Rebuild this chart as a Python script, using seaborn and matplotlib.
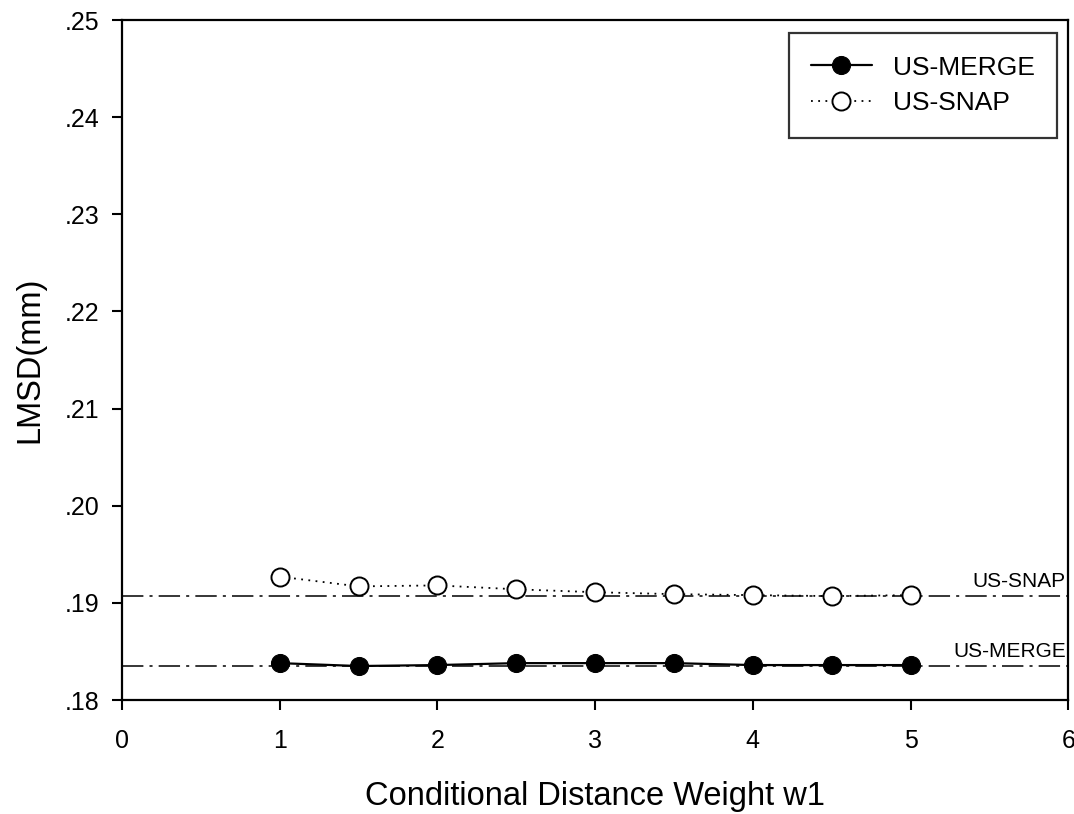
import matplotlib
matplotlib.use("Agg")
import matplotlib.pyplot as plt
import seaborn as sns
import numpy as np
import pandas as pd

weights = [1, 1.5, 2, 2.5, 3, 3.5, 4, 4.5, 5]
us_merge = [0.1838, 0.1835, 0.1836, 0.1838, 0.1838, 0.1838, 0.1836, 0.1836, 0.1836]
us_snap = [0.1927, 0.1917, 0.1918, 0.1914, 0.1911, 0.1909, 0.1908, 0.1907, 0.1908]
baseline_merge = 0.18355
baseline_snap = 0.19075
x_ticks = [0, 1, 2, 3, 4, 5, 6]
y_ticks = [0.18, 0.19, 0.20, 0.21, 0.22, 0.23, 0.24, 0.25]
y_tick_labels = [".18", ".19", ".20", ".21", ".22", ".23", ".24", ".25"]

sns.set_style("ticks")
plt.rcParams['font.family'] = ['Liberation Sans', 'DejaVu Sans']
plt.rcParams['text.color'] = 'black'
plt.rcParams['axes.labelcolor'] = 'black'
plt.rcParams['xtick.color'] = 'black'
plt.rcParams['ytick.color'] = 'black'

fig = plt.figure(figsize=(10.74, 8.14), dpi=100)
ax = fig.add_axes([0.1136, 0.140, 0.881, 0.8354])

df_m = pd.DataFrame({"w": weights, "v": us_merge})
df_s = pd.DataFrame({"w": weights, "v": us_snap})

ax.axhline(baseline_snap, color="black", lw=1.1, dashes=(14, 4, 2, 4), zorder=1)
ax.axhline(baseline_merge, color="black", lw=1.1, dashes=(14, 4, 2, 4), zorder=1)

sns.lineplot(data=df_m, x="w", y="v", ax=ax, color="black", lw=1.6,
             marker="o", markersize=13, markerfacecolor="black",
             markeredgecolor="black", label="US-MERGE", zorder=3)
sns.lineplot(data=df_s, x="w", y="v", ax=ax, color="black", lw=1.3,
             linestyle=(0, (1, 3)), marker="o", markersize=13,
             markerfacecolor="white", markeredgecolor="black",
             markeredgewidth=1.4, label="US-SNAP", zorder=3)

ax.text(5.985, baseline_snap + 0.0005, "US-SNAP", ha="right", va="bottom", fontsize=15)
ax.text(5.985, baseline_merge + 0.0005, "US-MERGE", ha="right", va="bottom", fontsize=15)

ax.set_xlim(0, 6)
ax.set_ylim(0.18, 0.25)
ax.set_xticks(x_ticks)
ax.set_xticklabels([str(t) for t in x_ticks], fontsize=18)
ax.set_yticks(y_ticks)
ax.set_yticklabels(y_tick_labels, fontsize=18)
ax.tick_params(direction="out", length=7, width=1.5)
ax.tick_params(axis="x", pad=14)
ax.tick_params(axis="y", pad=9)
ax.tick_params(top=False, right=False)
for s in ax.spines.values():
    s.set_visible(True)
    s.set_linewidth(1.6)
    s.set_color("black")

ax.set_xlabel("Conditional Distance Weight w1", fontsize=23.5, labelpad=20)
ax.set_ylabel("LMSD(mm)", fontsize=23.5, labelpad=14)

leg = ax.legend(loc="upper right", fontsize=19, frameon=True, fancybox=False,
                edgecolor="black", borderpad=0.85, handlelength=2.3,
                handletextpad=0.8, labelspacing=0.45, borderaxespad=0,
                bbox_to_anchor=(0.9884, 0.9808))
leg.get_frame().set_linewidth(1.6)

fig.savefig("out.png", dpi=100)
